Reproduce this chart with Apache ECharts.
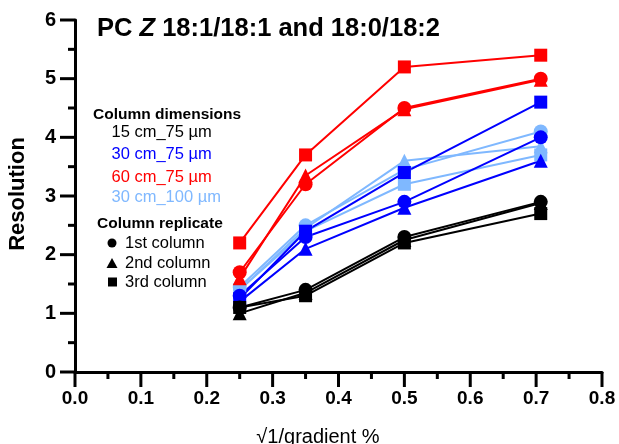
<!DOCTYPE html>
<html>
<head>
<meta charset="utf-8">
<script src="https://cdn.jsdelivr.net/npm/echarts@6/dist/echarts.min.js"></script>
<style>html,body{margin:0;padding:0;background:#fff;}#c{width:619px;height:444px;}</style>
</head>
<body>
<div id="c"></div>
<script>
var xValues = [0.25, 0.35, 0.5, 0.707];
var xTicks = ['0.0','0.1','0.2','0.3','0.4','0.5','0.6','0.7','0.8'];
var yTicks = ['0','1','2','3','4','5','6'];

var black1st = [1.1, 1.4, 2.3, 2.9];
var black2nd = [1.0, 1.35, 2.25, 2.88];
var black3rd = [1.1, 1.3, 2.2, 2.7];
var blue1st = [1.3, 2.3, 2.9, 4.0];
var blue2nd = [1.2, 2.1, 2.8, 3.6];
var blue3rd = [1.25, 2.4, 3.4, 4.6];
var red1st = [1.7, 3.2, 4.5, 5.0];
var red2nd = [1.6, 3.35, 4.48, 4.98];
var red3rd = [2.2, 3.7, 5.2, 5.4];
var light1st = [1.45, 2.5, 3.45, 4.1];
var light2nd = [1.4, 2.45, 3.6, 3.85];
var light3rd = [1.4, 2.4, 3.2, 3.7];

var dimLabels = ['15 cm_75 µm', '30 cm_75 µm', '60 cm_75 µm', '30 cm_100 µm'];
var repLabels = ['1st column', '2nd column', '3rd column'];

var C_BLACK = '#000000', C_BLUE = '#0000ff', C_RED = '#ff0000', C_LIGHT = '#7fb8ff';

function mk(data, color, symbol) {
  return {
    type: 'line',
    data: xValues.map(function (x, i) { return [x, data[i]]; }),
    symbol: symbol,
    symbolSize: symbol === 'rect' ? 13 : 14,
    lineStyle: { color: color, width: 2 },
    itemStyle: { color: color },
    animation: false,
    z: 2
  };
}

var series = [
  mk(light1st, C_LIGHT, 'circle'), mk(light2nd, C_LIGHT, 'triangle'), mk(light3rd, C_LIGHT, 'rect'),
  mk(red1st, C_RED, 'circle'), mk(red2nd, C_RED, 'triangle'), mk(red3rd, C_RED, 'rect'),
  mk(blue1st, C_BLUE, 'circle'), mk(blue2nd, C_BLUE, 'triangle'), mk(blue3rd, C_BLUE, 'rect'),
  mk(black1st, C_BLACK, 'circle'), mk(black2nd, C_BLACK, 'triangle'), mk(black3rd, C_BLACK, 'rect')
];

var FONT = 'Liberation Sans, Arial, Helvetica, sans-serif';
var dimColors = [C_BLACK, C_BLUE, C_RED, C_LIGHT];
var dimY = [132, 154, 177, 197];
var repY = [243, 263, 282];

var graphics = [
  { type: 'text', left: 97, top: 16, style: {
      text: '{b|PC }{i|Z}{b| 18:1/18:1 and 18:0/18:2}',
      rich: {
        b: { fontFamily: FONT, fontWeight: 'bold', fontSize: 25.5, fill: '#000' },
        i: { fontFamily: FONT, fontWeight: 'bold', fontStyle: 'italic', fontSize: 25.5, fill: '#000' }
      } } },
  { type: 'text', x: 18, y: 194, rotation: Math.PI / 2, style: {
      text: 'Resolution', fontFamily: FONT, fontWeight: 'bold', fontSize: 22, fill: '#000',
      align: 'center', verticalAlign: 'middle' } },
  { type: 'text', x: 318, y: 437, style: {
      text: '√1/gradient %', fontFamily: FONT, fontSize: 20, fill: '#000',
      align: 'center', verticalAlign: 'middle' } },
  { type: 'text', x: 93, y: 115, style: {
      text: 'Column dimensions', fontFamily: FONT, fontWeight: 'bold', fontSize: 15.5, fill: '#000',
      verticalAlign: 'middle' } },
  { type: 'text', x: 97, y: 224, style: {
      text: 'Column replicate', fontFamily: FONT, fontWeight: 'bold', fontSize: 15.5, fill: '#000',
      verticalAlign: 'middle' } },
  { type: 'circle', shape: { cx: 112, cy: repY[0], r: 4.5 }, style: { fill: '#000' } },
  { type: 'polygon', shape: { points: [[112, repY[1] - 5], [117.5, repY[1] + 5], [106.5, repY[1] + 5]] }, style: { fill: '#000' } },
  { type: 'rect', shape: { x: 108, y: repY[2] - 4.5, width: 9, height: 9 }, style: { fill: '#000' } }
];
dimLabels.forEach(function (t, i) {
  graphics.push({ type: 'text', x: 111.5, y: dimY[i], style: {
    text: t, fontFamily: FONT, fontSize: 16.5, fill: dimColors[i], verticalAlign: 'middle' } });
});
repLabels.forEach(function (t, i) {
  graphics.push({ type: 'text', x: 125, y: repY[i], style: {
    text: t, fontFamily: FONT, fontSize: 16.5, fill: '#000', verticalAlign: 'middle' } });
});

var chart = echarts.init(document.getElementById('c'), null, { renderer: 'canvas' });
chart.setOption({
  animation: false,
  backgroundColor: '#fff',
  grid: { left: 75, right: 17, top: 20, bottom: 72 },
  xAxis: {
    type: 'value', min: 0, max: 0.8, interval: 0.1,
    axisLine: { show: true, onZero: false, lineStyle: { color: '#000', width: 3 } },
    axisTick: { show: false },
    splitLine: { show: false },
    axisLabel: { margin: 17, fontFamily: FONT, fontWeight: 'bold', fontSize: 19, color: '#000',
      formatter: function (v) { return xTicks[Math.round(v * 10)]; } }
  },
  yAxis: {
    type: 'value', min: 0, max: 6, interval: 1,
    axisLine: { show: true, onZero: false, lineStyle: { color: '#000', width: 3 } },
    axisTick: { show: false },
    splitLine: { show: false },
    axisLabel: { margin: 19, fontFamily: FONT, fontWeight: 'bold', fontSize: 20, color: '#000',
      formatter: function (v) { return yTicks[Math.round(v)]; } }
  },
  series: series
});

// Axis tick marks placed through the axes' own scales
var tickEls = [];
var origin = chart.convertToPixel({ gridIndex: 0 }, [0, 0]);
for (var k = 0; k <= 12; k++) {
  var py = chart.convertToPixel({ gridIndex: 0 }, [0, k * 0.5])[1];
  var len = (k % 2 === 0) ? 15 : 7;
  tickEls.push({ type: 'rect', shape: { x: origin[0] - len, y: py - 1.5, width: len, height: 3 },
    style: { fill: '#000' }, z: 10 });
}
for (var m = 0; m <= 16; m++) {
  var px = chart.convertToPixel({ gridIndex: 0 }, [m * 0.05, 0])[0];
  var lenx = (m % 2 === 0) ? 15 : 7;
  tickEls.push({ type: 'rect', shape: { x: px - 1.5, y: origin[1], width: 3, height: lenx },
    style: { fill: '#000' }, z: 10 });
}
chart.setOption({ graphic: graphics.concat(tickEls) });
</script>
</body>
</html>
